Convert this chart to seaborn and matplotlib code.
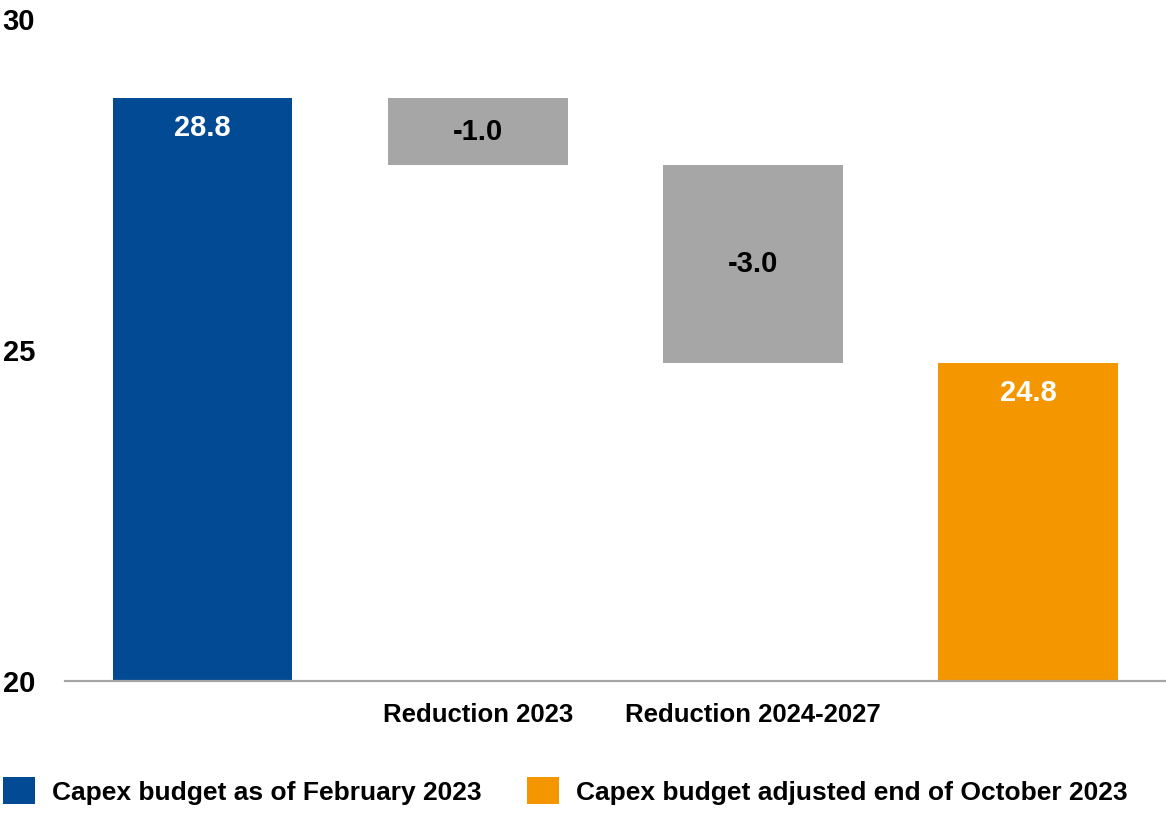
import matplotlib
matplotlib.use("Agg")
import matplotlib.pyplot as plt
import seaborn as sns
import pandas as pd
from matplotlib.patches import Patch

categories = ["Capex budget as of February 2023", "Reduction 2023",
              "Reduction 2024-2027", "Capex budget adjusted end of October 2023"]
tick_labels = ["", "Reduction 2023", "Reduction 2024-2027", ""]
values = [28.8, -1.0, -3.0, 24.8]
kinds = ["total", "delta", "delta", "total"]
label_texts = ["28.8", "-1.0", "-3.0", "24.8"]
colors = ["#034A94", "#A6A6A6", "#A6A6A6", "#F39600"]
label_colors = ["white", "black", "black", "white"]
yticks = [20, 25, 30]

# waterfall geometry
bottoms, heights = [], []
running = 0.0
for v, k in zip(values, kinds):
    if k == "total":
        bottoms.append(0.0)
        heights.append(v)
        running = v
    else:
        new = running + v
        bottoms.append(min(running, new))
        heights.append(abs(v))
        running = new

df = pd.DataFrame({"category": categories, "height": heights, "bottom": bottoms})

sns.set_theme(style="white")
plt.rcParams["font.family"] = ["Liberation Sans", "DejaVu Sans"]
plt.rcParams["text.color"] = "black"
plt.rcParams["xtick.color"] = "black"
plt.rcParams["ytick.color"] = "black"
plt.rcParams["xtick.labelcolor"] = "black"
plt.rcParams["ytick.labelcolor"] = "black"

fig = plt.figure(figsize=(11.66, 8.13), dpi=100)
ax = fig.add_axes([0.0557, 0.1624, 0.9443, 0.8142])

for i, row in df.iterrows():
    sns.barplot(data=df.iloc[[i]], x="category", y="height", order=categories,
                color=colors[i], bottom=row["bottom"], width=0.653,
                saturation=1, errorbar=None, ax=ax, linewidth=0)

ax.set_ylim(20, 30)
ax.set_xlim(-0.5, 3.5)
ax.set_yticks(yticks)
ax.set_yticklabels([str(t) for t in yticks], fontsize=21, fontweight="bold", color="black")
ax.set_xticks(range(len(categories)))
ax.set_xticklabels(tick_labels, fontsize=18.5, fontweight="bold", color="black")
ax.tick_params(axis="y", length=0, pad=21.6)
ax.tick_params(axis="x", length=0, pad=16)
ax.set_xlabel("")
ax.set_ylabel("")
for s in ["left", "right", "top"]:
    ax.spines[s].set_visible(False)
ax.spines["bottom"].set_color("#A6A6A6")
ax.spines["bottom"].set_linewidth(1.6)

# value labels
for i in range(len(categories)):
    top = df["bottom"][i] + df["height"][i]
    if kinds[i] == "total":
        ax.annotate(label_texts[i], xy=(i, top), xytext=(0, -21.5), textcoords="offset points",
                    ha="center", va="center", fontsize=21, fontweight="bold",
                    color=label_colors[i])
    else:
        ax.text(i, df["bottom"][i] + df["height"][i] / 2, label_texts[i],
                ha="center", va="center", fontsize=21, fontweight="bold",
                color=label_colors[i])

handles = [Patch(facecolor=colors[0], edgecolor="none", label=categories[0]),
           Patch(facecolor=colors[3], edgecolor="none", label=categories[3])]
leg = fig.legend(handles=handles, loc="center left", bbox_to_anchor=(0.0026, 22 / 813),
                 ncol=2, frameon=False, handlelength=1.21, handleheight=1.21,
                 handletextpad=0.64, columnspacing=1.74, borderpad=0, borderaxespad=0,
                 prop={"size": 19, "weight": "bold"})
for t in leg.get_texts():
    t.set_color("black")

fig.savefig("out.png", dpi=100)
